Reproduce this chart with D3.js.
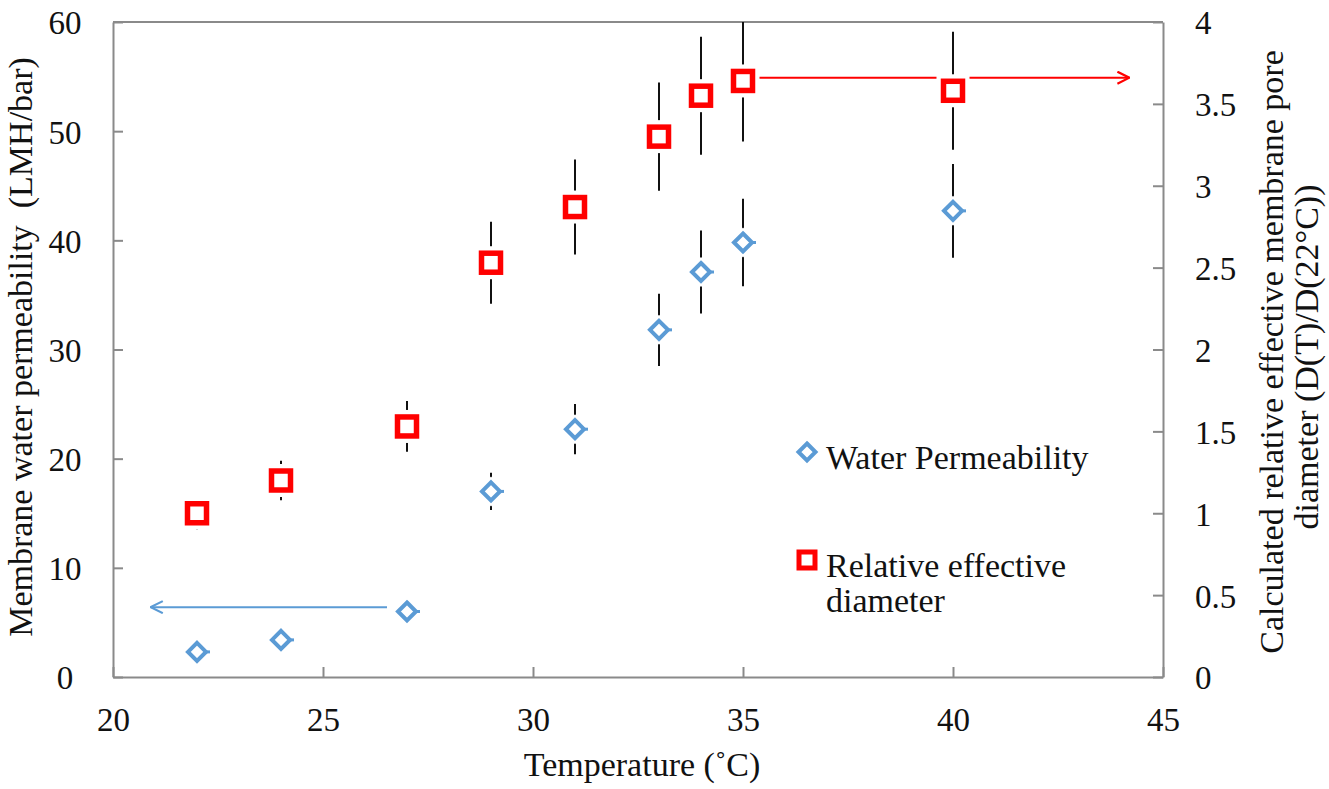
<!DOCTYPE html>
<html>
<head>
<meta charset="utf-8">
<script src="https://cdn.jsdelivr.net/npm/d3@7"></script>
<style>
  html, body { margin: 0; padding: 0; background: #fff; }
  svg { display: block; }
  text { font-family: "Liberation Serif", "Times New Roman", serif; fill: #111; }
</style>
</head>
<body>
<svg id="chart" width="1329" height="789"></svg>
<script>
// ---- Data ----
const temperatures = [22, 24, 27, 29, 31, 33, 34, 35, 40];
const permeability = [2.3, 3.4, 6.0, 17.0, 22.7, 31.8, 37.1, 39.8, 42.7];
const permeabilityErr = [0.3, 0.4, 0.5, 1.7, 2.3, 3.3, 3.8, 4.0, 4.3];
const relDiameter = [1.0, 1.2, 1.53, 2.53, 2.87, 3.30, 3.55, 3.64, 3.58];
const relDiameterErr = [0.1, 0.12, 0.155, 0.25, 0.29, 0.33, 0.36, 0.37, 0.36];
const xTicks = [20, 25, 30, 35, 40, 45];
const yLeftTicks = [0, 10, 20, 30, 40, 50, 60];
const yRightTicks = [0, 0.5, 1, 1.5, 2, 2.5, 3, 3.5, 4];
const legendLabels = ["Water Permeability", ["Relative effective", "diameter"]];
const arrowBlue = [27, 20.9, 6.4];   // from x, to x, y (left axis)
const arrowRed = [35, 44.2, 3.66];   // from x, to x, y (right axis)

// ---- Layout ----
const plot = { left: 113, top: 22, right: 1163, bottom: 677 };
const blue = "#5b9bd5", red = "#ff0000", axisGrey = "#8a8a8a";
const tickFont = 33, titleFont = 34;

const svg = d3.select("#chart");

const x = d3.scaleLinear().domain([20, 45]).range([plot.left, plot.right]);
const yL = d3.scaleLinear().domain([0, 60]).range([plot.bottom, plot.top]);
const yR = d3.scaleLinear().domain([0, 4]).range([plot.bottom, plot.top]);

// arrowheads
const defs = svg.append("defs");
function arrowMarker(id, color) {
  defs.append("marker")
    .attr("id", id).attr("viewBox", "0 0 14 14")
    .attr("refX", 13).attr("refY", 7)
    .attr("markerWidth", 14).attr("markerHeight", 14)
    .attr("markerUnits", "userSpaceOnUse")
    .attr("orient", "auto")
    .append("path").attr("d", "M1,1 L13,7 L1,13")
    .attr("fill", "none").attr("stroke", color).attr("stroke-width", 2.2);
}
arrowMarker("arrBlue", blue);
arrowMarker("arrRed", red);

// ---- Axes ----
const tickLen = 10;
const gX = svg.append("g").attr("transform", `translate(0,${plot.bottom})`)
  .call(d3.axisBottom(x).tickValues(xTicks).tickSizeInner(-tickLen).tickSizeOuter(0).tickFormat(d3.format("d")));
const gYL = svg.append("g").attr("transform", `translate(${plot.left},0)`)
  .call(d3.axisLeft(yL).tickValues(yLeftTicks).tickSizeInner(-tickLen).tickSizeOuter(0).tickFormat(d3.format("d")));
const gYR = svg.append("g").attr("transform", `translate(${plot.right},0)`)
  .call(d3.axisRight(yR).tickValues(yRightTicks).tickSizeInner(-tickLen).tickSizeOuter(0).tickFormat(d => String(d)));

[gX, gYL, gYR].forEach(g => {
  g.attr("font-family", null).attr("font-size", null);
  g.select(".domain").attr("stroke", axisGrey).attr("stroke-width", 2);
  g.selectAll(".tick line").attr("stroke", axisGrey).attr("stroke-width", 2);
  g.selectAll(".tick text").attr("font-size", tickFont).attr("fill", "#111");
});
gYL.selectAll(".tick text").attr("x", 65 - plot.left).attr("text-anchor", "middle").attr("dy", "0.36em");
gYR.selectAll(".tick text").attr("x", 1195 - plot.right).attr("text-anchor", "start").attr("dy", "0.36em");
gX.selectAll(".tick text").attr("y", 731 - plot.bottom).attr("dy", 0);

// top border
svg.append("line")
  .attr("x1", plot.left).attr("x2", plot.right)
  .attr("y1", plot.top).attr("y2", plot.top)
  .attr("stroke", axisGrey).attr("stroke-width", 2);

// ---- Axis titles ----
svg.append("text")
  .attr("x", 642).attr("y", 776)
  .attr("text-anchor", "middle").attr("font-size", titleFont)
  .text("Temperature (˚C)");

svg.append("text")
  .attr("transform", `translate(32,347) rotate(-90)`)
  .attr("text-anchor", "middle").attr("font-size", titleFont)
  .attr("xml:space", "preserve")
  .text("Membrane water permeability  (LMH/bar)");

const rt = svg.append("text")
  .attr("transform", `translate(1283,352) rotate(-90)`)
  .attr("text-anchor", "middle").attr("font-size", titleFont);
rt.append("tspan").attr("x", 0).attr("dy", 0).text("Calculated relative effective membrane pore");
rt.append("tspan").attr("x", -5).attr("dy", 35).text("diameter (D(T)/D(22°C))");

// ---- Arrows ----
svg.append("line")
  .attr("x1", x(arrowBlue[0]) - 20).attr("x2", x(arrowBlue[1]))
  .attr("y1", yL(arrowBlue[2])).attr("y2", yL(arrowBlue[2]))
  .attr("stroke", blue).attr("stroke-width", 2).attr("marker-end", "url(#arrBlue)");
svg.append("line")
  .attr("x1", x(arrowRed[0]) + 14).attr("x2", x(arrowRed[1]))
  .attr("y1", yR(arrowRed[2])).attr("y2", yR(arrowRed[2]))
  .attr("stroke", red).attr("stroke-width", 2).attr("marker-end", "url(#arrRed)");

// ---- Error bars ----
const errG = svg.append("g");
errG.selectAll("line.ep").data(temperatures).join("line")
  .attr("class", "ep")
  .attr("x1", d => x(d)).attr("x2", d => x(d))
  .attr("y1", (d, i) => yL(permeability[i] - permeabilityErr[i]))
  .attr("y2", (d, i) => yL(permeability[i] + permeabilityErr[i]))
  .attr("stroke", "#111").attr("stroke-width", 2);
errG.selectAll("line.er").data(temperatures).join("line")
  .attr("class", "er")
  .attr("x1", d => x(d)).attr("x2", d => x(d))
  .attr("y1", (d, i) => yR(relDiameter[i] - relDiameterErr[i]))
  .attr("y2", (d, i) => yR(Math.min(4, relDiameter[i] + relDiameterErr[i])))
  .attr("stroke", "#111").attr("stroke-width", 2);

// ---- Markers ----
const dia = 9; // diamond half-diagonal
function diamondPath(cx, cy, r) {
  return `M${cx},${cy - r} L${cx + r},${cy} L${cx},${cy + r} L${cx - r},${cy} Z`;
}
const blueG = svg.append("g");
temperatures.forEach((t, i) => {
  const cx = x(t), cy = yL(permeability[i]);
  blueG.append("path").attr("d", diamondPath(cx, cy, dia + 6)).attr("fill", "#fff");
  blueG.append("line").attr("x1", cx + dia - 1).attr("x2", cx + dia + 4)
    .attr("y1", cy).attr("y2", cy).attr("stroke", blue).attr("stroke-width", 3);
  blueG.append("path").attr("d", diamondPath(cx, cy, dia))
    .attr("fill", "#fff").attr("stroke", blue).attr("stroke-width", 4);
});

const sq = 19; // square size (stroke center-line)
const redG = svg.append("g");
temperatures.forEach((t, i) => {
  const cx = x(t), cy = yR(relDiameter[i]);
  redG.append("rect").attr("x", cx - sq / 2 - 7).attr("y", cy - sq / 2 - 7)
    .attr("width", sq + 14).attr("height", sq + 14).attr("fill", "#fff");
  redG.append("rect").attr("x", cx - sq / 2).attr("y", cy - sq / 2)
    .attr("width", sq).attr("height", sq)
    .attr("fill", "#fff").attr("stroke", red).attr("stroke-width", 5.5);
});

// ---- Legend ----
const lg = svg.append("g");
lg.append("path").attr("d", diamondPath(807, 452, 8.5))
  .attr("fill", "#fff").attr("stroke", blue).attr("stroke-width", 4);
lg.append("text").attr("x", 826).attr("y", 469).attr("font-size", titleFont).text(legendLabels[0]);
lg.append("rect").attr("x", 799).attr("y", 552).attr("width", 16).attr("height", 16)
  .attr("fill", "#fff").attr("stroke", red).attr("stroke-width", 5);
const lt = lg.append("text").attr("x", 826).attr("y", 577).attr("font-size", titleFont);
lt.append("tspan").attr("x", 826).attr("dy", 0).text(legendLabels[1][0]);
lt.append("tspan").attr("x", 826).attr("dy", 35).text(legendLabels[1][1]);
</script>
</body>
</html>
